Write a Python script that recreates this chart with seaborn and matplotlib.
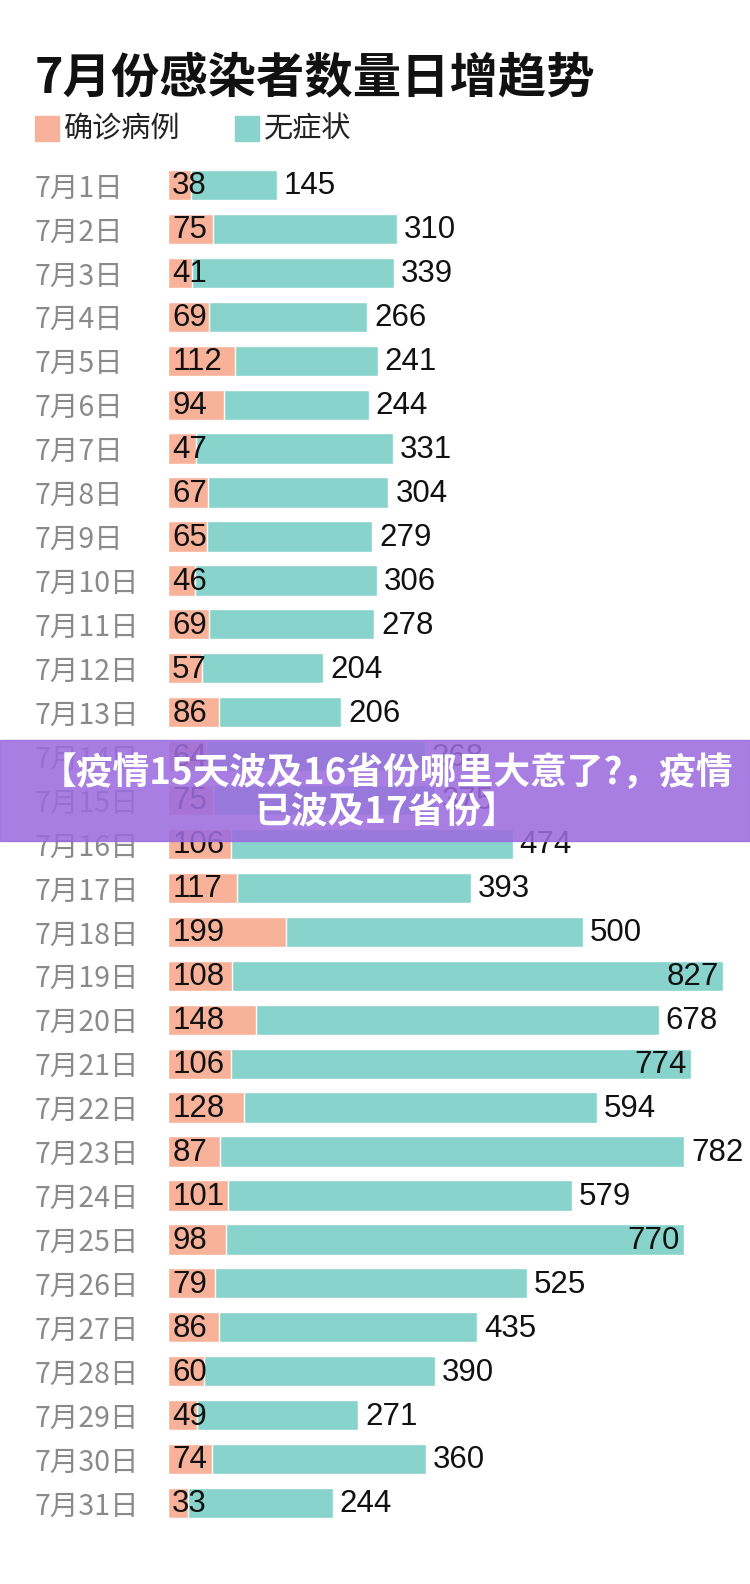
import matplotlib
matplotlib.use("Agg")
import matplotlib.pyplot as plt
import seaborn as sns
import pandas as pd
import matplotlib.patches as mpatches

sns.set_theme(style="white")
plt.rcParams['font.family'] = ['Noto Sans CJK SC', 'DejaVu Sans']

days = [f"7月{i}日" for i in range(1, 32)]
confirmed = [38, 75, 41, 69, 112, 94, 47, 67, 65, 46, 69, 57, 86, 64, 75, 106,
             117, 199, 108, 148, 106, 128, 87, 101, 98, 79, 86, 60, 49, 74, 33]
asymptomatic = [145, 310, 339, 266, 241, 244, 331, 304, 279, 306, 278, 204, 206, 368, 375, 474,
                393, 500, 827, 678, 774, 594, 782, 579, 770, 525, 435, 390, 271, 360, 244]
inside_labels = {"7月19日", "7月21日", "7月25日"}

title = "7月份感染者数量日增趋势"
legend_labels = ["确诊病例", "无症状"]
banner = "【疫情15天波及16省份哪里大意了?，疫情\n已波及17省份】"

salmon = "#F8B29A"
teal = "#88D3CB"
num_font = ["Liberation Sans", "DejaVu Sans"]

df = pd.DataFrame({"day": days, "confirmed": confirmed, "asym": asymptomatic})
df["total"] = df["confirmed"] + df["asym"]

W, H = 750, 1584
fig = plt.figure(figsize=(W / 100, H / 100), dpi=100)
fig.patch.set_facecolor("white")

x0 = 168
row0, rowN = 185, 1503
step = (rowN - row0) / 30
top = row0 - step / 2
bot = rowN + step / 2
scale = 0.594  # px per unit
ax = fig.add_axes([x0 / W, 1 - bot / H, (W - x0) / W, (bot - top) / H])

sns.barplot(data=df, x="total", y="day", color=teal, orient="h", width=0.69,
            saturation=1, ax=ax)
sns.barplot(data=df, x="confirmed", y="day", color=salmon, orient="h", width=0.69,
            saturation=1, ax=ax)
ax.set_xlim(0, (W - x0) / scale)
ax.set_ylim(30.5, -0.5)
for s in ax.spines.values():
    s.set_visible(False)
ax.set_xlabel("")
ax.set_ylabel("")
ax.set_xticks([])
ax.set_yticks(range(len(days)))
ax.set_yticklabels(days, fontsize=20.5, color="#8a8a8a", ha="left")
ax.tick_params(axis="y", length=0, pad=(x0 - 35) * 0.72)

for i, row in df.iterrows():
    ax.annotate(str(row["confirmed"]), xy=(0, i), xytext=(3, -1), textcoords="offset points",
                ha="left", va="center", fontsize=22.5, color="#111111", family=num_font)
    if row["day"] in inside_labels:
        ax.annotate(str(row["asym"]), xy=(row["total"], i), xytext=(-3, -1),
                    textcoords="offset points", ha="right", va="center", fontsize=22.5,
                    color="#111111", family=num_font)
    else:
        ax.annotate(str(row["asym"]), xy=(row["total"], i), xytext=(5, -1),
                    textcoords="offset points", ha="left", va="center", fontsize=22.5,
                    color="#111111", family=num_font)

fig.text(35 / W, 1 - 79 / H, title, fontsize=34.8, fontweight="bold", color="#111111",
         ha="left", va="center")
leg_y = 129
for lx, tx, col, lab in [(35, 64, salmon, legend_labels[0]), (235, 264, teal, legend_labels[1])]:
    fig.patches.append(mpatches.Rectangle((lx / W, 1 - (leg_y + 12) / H), 24 / W, 25 / H,
                                          transform=fig.transFigure, color=col))
    fig.text(tx / W, 1 - leg_y / H, lab, fontsize=21, color="#222222", ha="left", va="center")

fig.patches.append(mpatches.Rectangle((0, 1 - 841 / H), 1, 101 / H, transform=fig.transFigure,
                                      color="#9C6CDE", alpha=0.88, zorder=10))
fig.text(0.5 + 12 / W, 1 - 793 / H, banner, fontsize=26.5, fontweight="bold", color="white",
         ha="center", va="center", linespacing=1.1, zorder=11)

fig.savefig("out.png", dpi=100, facecolor="white")
